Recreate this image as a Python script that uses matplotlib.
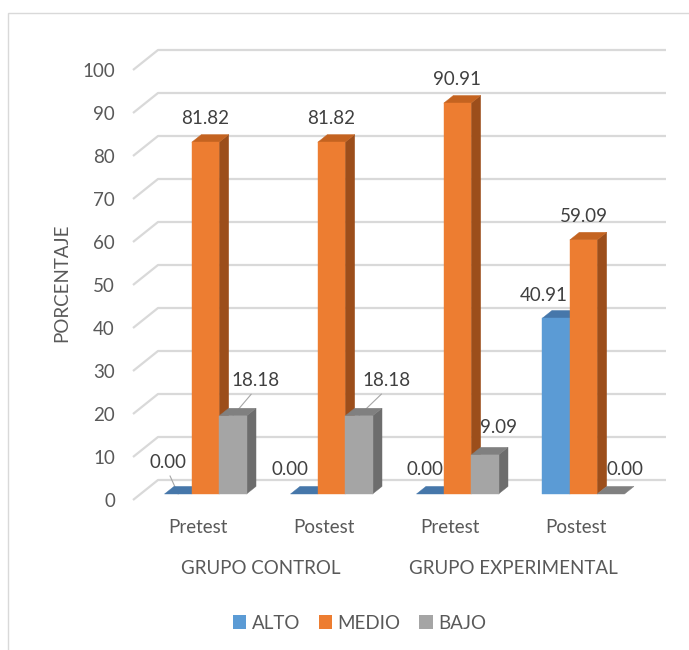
import matplotlib
matplotlib.use("Agg")
import matplotlib.pyplot as plt
from matplotlib.patches import Polygon, Rectangle, Patch

# ---- data -------------------------------------------------------------
groups = ["GRUPO CONTROL", "GRUPO EXPERIMENTAL"]
tests = ["Pretest", "Postest", "Pretest", "Postest"]
series = ["ALTO", "MEDIO", "BAJO"]
alto = [0.00, 0.00, 0.00, 40.91]
medio = [81.82, 81.82, 90.91, 59.09]
bajo = [18.18, 18.18, 9.09, 0.00]
yticks = list(range(0, 101, 10))

# ---- style ------------------------------------------------------------
plt.rcParams["font.family"] = ["Lato", "DejaVu Sans"]
FS = 13.5
TXT = "#595959"
LBL = "#404040"
GRID = "#D9D9D9"

front_c = {"ALTO": "#5B9BD5", "MEDIO": "#ED7D31", "BAJO": "#A5A5A5"}
top_c = {"ALTO": "#4677AA", "MEDIO": "#C46320", "BAJO": "#808080"}
side_c = {"ALTO": "#3F6A96", "MEDIO": "#9C4E1B", "BAJO": "#6D6D6D"}

fig = plt.figure(figsize=(6.89, 6.5), dpi=100)
ax = fig.add_axes([133 / 689, 150 / 650, 508 / 689, 430 / 650])
X0, X1 = -0.516, 3.516
ax.set_xlim(X0, X1)
ax.set_ylim(0, 100)
for s in ax.spines.values():
    s.set_visible(False)
ax.patch.set_visible(False)

# 3-D projection parameters (in data units)
DX, DY = 0.1984, 4.65       # full depth of the plot box
F0, FD = 0.30, 0.38         # bar front position and bar depth (fractions)
W = 0.217                   # bar width

# back wall / floor gridlines with the oblique lead-in
for v in yticks:
    ax.plot([X0, X0 + DX, X1 + DX], [v, v + DY, v + DY], color=GRID,
            lw=1.6, clip_on=False, zorder=1, solid_capstyle="butt")

ax.set_yticks(yticks)
ax.set_yticklabels([str(v) for v in yticks], fontsize=FS, color=TXT)
ax.tick_params(axis="y", length=0, pad=13)
ax.set_xticks([])

# bars
data = {"ALTO": alto, "MEDIO": medio, "BAJO": bajo}
bx, by = F0 * DX, F0 * DY          # offset of bar front faces
ddx, ddy = FD * DX, FD * DY        # bar depth

# label offsets (points) relative to the top-centre of each bar front face
lab_off = {
    ("ALTO", 0): (-7.6, 23.0, True),
    ("ALTO", 1): (-10.4, 17.3, False),
    ("ALTO", 2): (-4.0, 17.3, False),
    ("ALTO", 3): (-9.0, 16.6, False),
    ("MEDIO", 0): (0.0, 17.3, False),
    ("MEDIO", 1): (0.0, 17.3, False),
    ("MEDIO", 2): (0.0, 17.3, False),
    ("MEDIO", 3): (0.0, 16.6, False),
    ("BAJO", 0): (16.2, 25.2, True),
    ("BAJO", 1): (19.8, 25.2, True),
    ("BAJO", 2): (9.7, 19.4, False),
    ("BAJO", 3): (10.1, 17.3, False),
}

z = 3
for i in range(len(tests)):
    for j, name in enumerate(series):
        v = data[name][i]
        xl = i + (j - 1.5) * W + bx
        xr = xl + W
        y0 = by
        y1 = by + v
        # side face
        if v > 0:
            ax.add_patch(Polygon([(xr, y0), (xr, y1), (xr + ddx, y1 + ddy),
                                  (xr + ddx, y0 + ddy)], closed=True,
                                 fc=side_c[name], ec=side_c[name], lw=0.3,
                                 clip_on=False, zorder=z))
        # top face
        ax.add_patch(Polygon([(xl, y1), (xr, y1), (xr + ddx, y1 + ddy),
                              (xl + ddx, y1 + ddy)], closed=True,
                             fc=top_c[name], ec=top_c[name], lw=0.3,
                             clip_on=False, zorder=z + 0.1))
        # front face
        if v > 0:
            ax.add_patch(Rectangle((xl, y0), W, v, fc=front_c[name],
                                   ec=front_c[name], lw=0.3, clip_on=False,
                                   zorder=z + 0.2))
        z += 0.5

        dxp, dyp, leader = lab_off[(name, i)]
        ap = None
        if leader:
            ap = dict(arrowstyle="-", color="#A6A6A6", lw=0.8,
                      shrinkA=2, shrinkB=0, relpos=(0.5, 0.0))
        ax.annotate(f"{v:.2f}", xy=((xl + xr) / 2, y1), xytext=(dxp, dyp),
                    textcoords="offset points", ha="center", va="center",
                    fontsize=FS, color=LBL, arrowprops=ap, zorder=2,
                    annotation_clip=False)

# category and group labels
for i, t in enumerate(tests):
    ax.annotate(t, xy=(i, 0), xycoords=("data", "axes fraction"),
                xytext=(0, -19.5), textcoords="offset points",
                ha="center", va="center", fontsize=FS, color=TXT)
for k, g in enumerate(groups):
    ax.annotate(g, xy=(2 * k + 0.5, 0), xycoords=("data", "axes fraction"),
                xytext=(0, -49.5), textcoords="offset points",
                ha="center", va="center", fontsize=FS, color=TXT)

fig.text(62 / 689, 1 - 283 / 650, "PORCENTAJE", rotation=90,
         ha="center", va="center", fontsize=FS, color=TXT)

handles = [Patch(fc=front_c[n], ec="none") for n in series]
fig.legend(handles, series, loc="center", bbox_to_anchor=(0.522, 0.0415),
           ncol=3, frameon=False, fontsize=FS, labelcolor=TXT,
           handlelength=0.7, handleheight=0.7, handletextpad=0.3,
           columnspacing=1.0, borderaxespad=0, borderpad=0)

# chart area border
fig.add_artist(Rectangle((8 / 689, -0.05), 1.0, (650 - 13) / 650 + 0.05,
                         transform=fig.transFigure, fill=False,
                         ec="#D9D9D9", lw=1.0))

fig.savefig("out.png", dpi=100, facecolor="white")
